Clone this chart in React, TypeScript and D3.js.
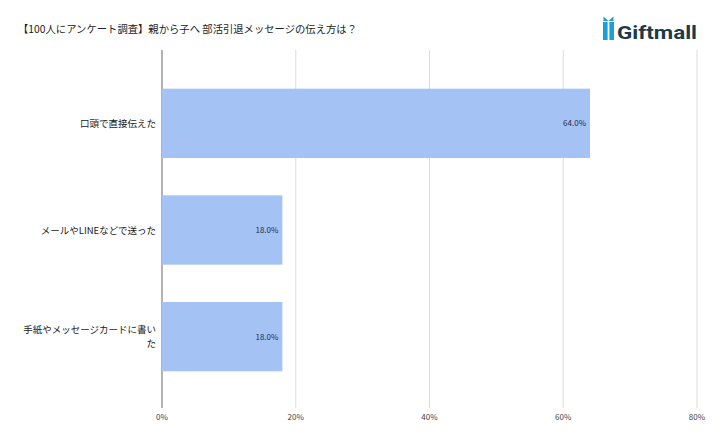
import { useMemo } from 'react';
import * as d3 from 'd3';

const title = '【100人にアンケート調査】親から子へ 部活引退メッセージの伝え方は？';
const categories = ['口頭で直接伝えた', 'メールやLINEなどで送った', '手紙やメッセージカードに書いた'];
const categoryLines = [['口頭で直接伝えた'], ['メールやLINEなどで送った'], ['手紙やメッセージカードに書い', 'た']];
const values = [64.0, 18.0, 18.0];
const xTicks = [0, 20, 40, 60, 80];

const font = '"Noto Sans CJK JP", "Noto Sans", Roboto, Arial, sans-serif';

export default function App(): React.ReactNode {
  const width = 720;
  const height = 444;

  const { x, y } = useMemo(() => {
    const x = d3.scaleLinear().domain([0, 80]).range([162, 697]);
    const y = d3
      .scaleBand<string>()
      .domain(categories)
      .range([70, 390])
      .paddingInner(0.35)
      .paddingOuter(0.175);
    return { x, y };
  }, []);

  const gridTop = 50;
  const gridBottom = 408;

  return (
    <svg
      width={width}
      height={height}
      viewBox={`0 0 ${width} ${height}`}
      style={{ position: 'absolute', left: 0, top: 0, background: '#fff' }}
      fontFamily={font}
    >
      <text x={18} y={33} fontSize={10.3} fill="#222" textLength={339} lengthAdjust="spacingAndGlyphs">
        {title}
      </text>

      {/* logo */}
      <g>
        <rect x={603} y={22} width={11} height={18} fill="#1aa0d8" />
        <rect x={607.6} y={22} width={1.8} height={18} fill="#fff" />
        <path d="M603.5,16.5 L608.5,21 L613.5,16.5 L613.5,21 L603.5,21 Z" fill="#1aa0d8" />
        <text
          x={617}
          y={39}
          fontSize={19}
          fontWeight={700}
          fill="#1b3a4b"
          fontFamily="Roboto, Lato, 'Open Sans', sans-serif"
          textLength={80}
          lengthAdjust="spacingAndGlyphs"
        >
          Giftmall
        </text>
      </g>

      {xTicks.map((t) => (
        <line
          key={t}
          x1={x(t)}
          x2={x(t)}
          y1={gridTop}
          y2={gridBottom}
          stroke={t === 0 ? '#666' : '#dcdcdc'}
          strokeWidth={1}
        />
      ))}

      {categories.map((c, i) => (
        <rect
          key={c}
          x={x(0)}
          y={y(c) ?? 0}
          width={x(values[i]) - x(0)}
          height={y.bandwidth()}
          fill="#a4c2f4"
        />
      ))}

      {categories.map((c, i) => (
        <text
          key={c + 'v'}
          x={x(values[i]) - 4}
          y={(y(c) ?? 0) + y.bandwidth() / 2 + 3}
          textAnchor="end"
          fontSize={8}
          fill="#1f2d4d"
        >
          {values[i].toFixed(1)}%
        </text>
      ))}

      {categories.map((c, i) => {
        const lines = categoryLines[i];
        const cy = (y(c) ?? 0) + y.bandwidth() / 2;
        const lh = 14;
        const start = cy - ((lines.length - 1) * lh) / 2;
        return (
          <text key={c + 'l'} x={156} textAnchor="end" fontSize={9.5} fill="#1a1a1a">
            {lines.map((l, j) => (
              <tspan key={j} x={156} y={start + j * lh + 3.5}>
                {l}
              </tspan>
            ))}
          </text>
        );
      })}

      {xTicks.map((t) => (
        <text key={t + 't'} x={x(t)} y={420} textAnchor="middle" fontSize={8} fill="#444">
          {t}%
        </text>
      ))}
    </svg>
  );
}
